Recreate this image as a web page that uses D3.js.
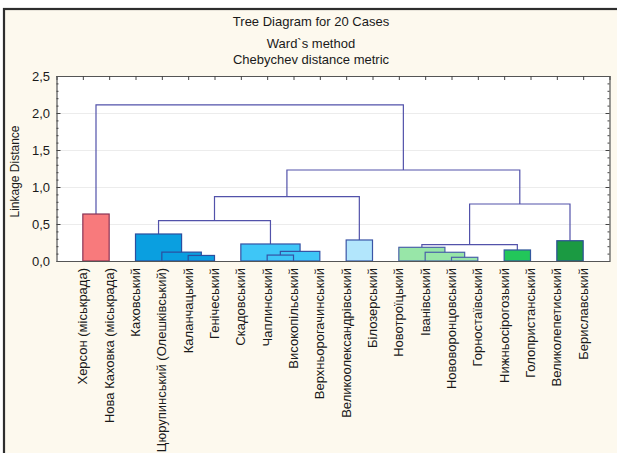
<!DOCTYPE html>
<html>
<head>
<meta charset="utf-8">
<script src="https://cdn.jsdelivr.net/npm/d3@7"></script>
<style>
  html, body { margin: 0; padding: 0; background: #ffffff; }
  svg { display: block; }
  text { font-family: "Liberation Sans", Arial, sans-serif; fill: #1a1a1a; }
</style>
</head>
<body>
<svg id="chart" width="617" height="453"></svg>
<script>
// ---------- DATA ----------
const titleLines = ["Tree Diagram for 20 Cases", "Ward`s method", "Chebychev distance metric"];
const yAxisTitle = "Linkage Distance";
const leaves = [
  "Херсон (міськрада)",
  "Нова Каховка (міськрада)",
  "Каховський",
  "Цюрупинський (Олешківський)",
  "Каланчацький",
  "Генічеський",
  "Скадовський",
  "Чаплинський",
  "Високопільський",
  "Верхньорогачинський",
  "Великоолександрівський",
  "Білозерський",
  "Новотроїцький",
  "Іванівський",
  "Нововоронцовський",
  "Горностаївський",
  "Нижньосірогозький",
  "Голопристанський",
  "Великолепетиський",
  "Бериславський"
];
// linkage: node ids 0..19 are leaves, merge k gets id 20+k
const mergeLeft   = [0, 4, 3, 2, 7, 24, 6, 23, 10, 27, 14, 13, 12, 16, 32, 18, 34, 29, 20];
const mergeRight  = [1, 5, 21, 22, 8, 9, 25, 26, 11, 28, 15, 30, 31, 17, 33, 19, 35, 36, 37];
const mergeHeight = [0.635, 0.075, 0.12, 0.365, 0.08, 0.13, 0.23, 0.545, 0.284, 0.87,
                     0.05, 0.118, 0.185, 0.149, 0.22, 0.274, 0.77, 1.23, 2.11];
// colour group of filled clusters (-1 = plain link)
const mergeGroup  = [0, 1, 1, 1, 2, 2, 2, -1, 3, -1, 4, 4, 4, 5, -1, 6, -1, -1, -1];
const yTicks = [0, 0.5, 1.0, 1.5, 2.0, 2.5];

// ---------- STYLE ----------
const groupFill   = ["#f87a7c", "#0a9fe0", "#3ec6f7", "#b2e6fc", "#98e6a8", "#22c65a", "#1b9a42"];
const groupStroke = ["#8a3456", "#2c4e9e", "#3552a4", "#3a55a6", "#4a62a8", "#33589e", "#2e4f96"];
const linkColor = "#5252aa";

const W = 617, H = 453;
const svg = d3.select("#chart");

// outer panel
svg.append("rect").attr("x", 4).attr("y", 9).attr("width", W + 10).attr("height", H + 10)
  .attr("fill", "#fdf9ee").attr("stroke", "#2e2e2e").attr("stroke-width", 2.2);

const x = d3.scaleLinear().domain([-1, leaves.length]).range([56.5, 609.5]);
const y = d3.scaleLinear().domain([0, 2.5]).range([261, 76]);

// plot background
svg.append("rect").attr("x", x.range()[0]).attr("y", y(2.5))
  .attr("width", x.range()[1] - x.range()[0]).attr("height", y(0) - y(2.5))
  .attr("fill", "#ffffff");

// grid
svg.append("g").selectAll("line").data(yTicks.filter(d => d > 0 && d < 2.5)).join("line")
  .attr("x1", x.range()[0]).attr("x2", x.range()[1])
  .attr("y1", d => Math.round(y(d)) + 0.5).attr("y2", d => Math.round(y(d)) + 0.5)
  .attr("stroke", "#d9d9d9").attr("stroke-width", 1).attr("stroke-dasharray", "1,1");

// titles
svg.append("g").selectAll("text").data(titleLines).join("text")
  .attr("x", 311).attr("y", (d, i) => [26, 48, 64][i])
  .attr("text-anchor", "middle").attr("font-size", 13).text(d => d);

// node positions
const pos = leaves.map((d, i) => ({ x: x(i), h: 0 }));
mergeLeft.forEach((l, k) => {
  const a = pos[l], b = pos[mergeRight[k]];
  pos.push({ x: (a.x + b.x) / 2, h: mergeHeight[k], l: a, r: b, g: mergeGroup[k] });
});
const merges = pos.slice(leaves.length);

// links (unfilled)
svg.append("g").selectAll("path").data(merges.filter(m => m.g < 0)).join("path")
  .attr("d", m => `M${m.l.x},${y(m.l.h)}V${y(m.h)}H${m.r.x}V${y(m.r.h)}`)
  .attr("fill", "none").attr("stroke", linkColor).attr("stroke-width", 1.2);

// filled clusters, tallest first
const filled = merges.filter(m => m.g >= 0).sort((a, b) => b.h - a.h);
svg.append("g").selectAll("rect").data(filled).join("rect")
  .attr("x", m => m.l.x).attr("y", m => y(m.h))
  .attr("width", m => m.r.x - m.l.x).attr("height", m => y(0) - y(m.h))
  .attr("fill", m => groupFill[m.g]).attr("stroke", m => groupStroke[m.g]).attr("stroke-width", 1.2);

// axes frame
const axG = svg.append("g");
const x0 = x.range()[0], x1 = x.range()[1], yT = y(2.5), yB = y(0);
const isMajor = d => Math.abs(d * 2 - Math.round(d * 2)) < 1e-6;
// left axis
const yAxisL = d3.axisRight(y).tickValues(d3.range(0, 2.501, 0.1)).tickSize(2).tickFormat("");
const gl = axG.append("g").attr("transform", `translate(${x0},0)`).call(yAxisL);
gl.selectAll(".tick line").filter(isMajor).attr("x2", 4);
// right axis
const yAxisR = d3.axisLeft(y).tickValues(d3.range(0, 2.501, 0.1)).tickSize(2).tickFormat("");
const gr = axG.append("g").attr("transform", `translate(${x1},0)`).call(yAxisR);
gr.selectAll(".tick line").filter(isMajor).attr("x2", -4);
// top axis
const xAxisT = d3.axisBottom(x).tickValues(d3.range(leaves.length)).tickSize(4).tickFormat("");
axG.append("g").attr("transform", `translate(0,${yT})`).call(xAxisT);
// bottom axis
const xAxisB = d3.axisTop(x).tickValues(d3.range(leaves.length)).tickSize(0).tickFormat("");
axG.append("g").attr("transform", `translate(0,${yB})`).call(xAxisB);
axG.selectAll(".domain").attr("stroke", "#555").attr("stroke-width", 1.2);
axG.selectAll(".tick line").attr("stroke", "#444");

// y tick labels
svg.append("g").selectAll("text").data(yTicks).join("text")
  .attr("x", 50).attr("y", d => y(d)).attr("dy", "0.35em")
  .attr("text-anchor", "end").attr("font-size", 13)
  .text(d => d3.format(".1f")(d).replace(".", ","));

// y axis title
svg.append("text").attr("transform", `translate(19,${(yT + yB) / 2 + 3}) rotate(-90)`)
  .attr("text-anchor", "middle").attr("font-size", 12).text(yAxisTitle);

// leaf labels
svg.append("g").selectAll("text").data(leaves).join("text")
  .attr("transform", (d, i) => `translate(${x(i)},268) rotate(-90)`)
  .attr("dy", "0.35em").attr("text-anchor", "end").attr("font-size", 13)
  .text(d => d);
</script>
</body>
</html>
